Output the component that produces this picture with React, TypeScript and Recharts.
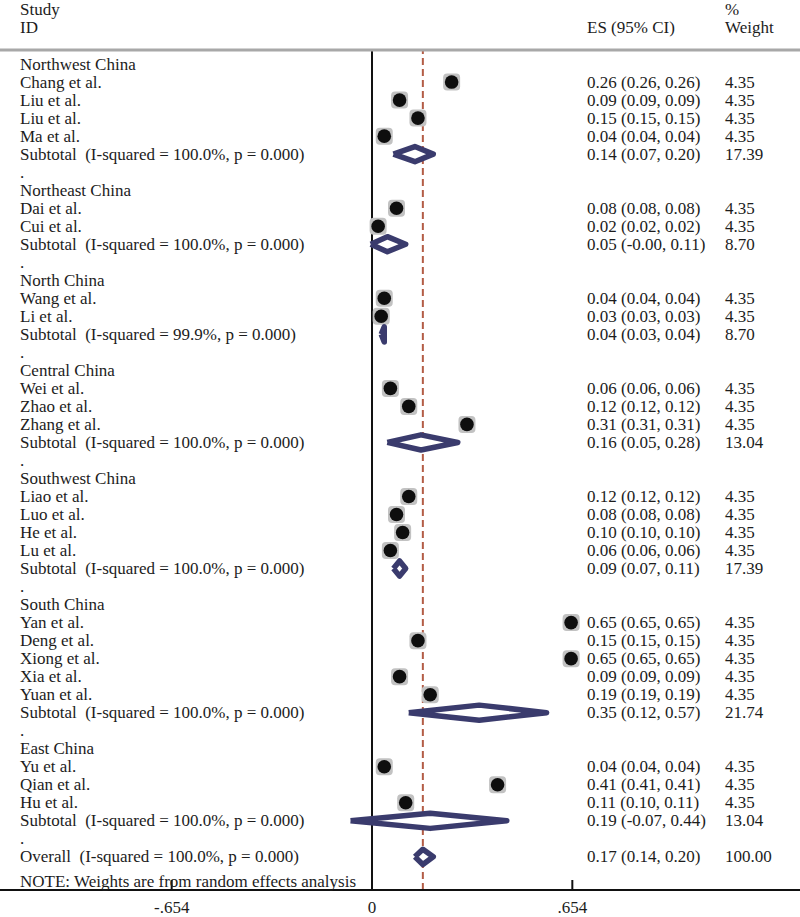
import { ScatterChart, Scatter, XAxis, YAxis, ReferenceLine } from 'recharts';

// regions and studies
const regionNames = ['Northwest China', 'Northeast China', 'North China', 'Central China', 'Southwest China', 'South China', 'East China'];

const studyNames = [
  'Chang et al.', 'Liu et al.', 'Liu et al.', 'Ma et al.',
  'Dai et al.', 'Cui et al.',
  'Wang et al.', 'Li et al.',
  'Wei et al.', 'Zhao et al.', 'Zhang et al.',
  'Liao et al.', 'Luo et al.', 'He et al.', 'Lu et al.',
  'Yan et al.', 'Deng et al.', 'Xiong et al.', 'Xia et al.', 'Yuan et al.',
  'Yu et al.', 'Qian et al.', 'Hu et al.',
];
const studyRegion = [0, 0, 0, 0, 1, 1, 2, 2, 3, 3, 3, 4, 4, 4, 4, 5, 5, 5, 5, 5, 6, 6, 6];
const studyES = [0.26, 0.09, 0.15, 0.04, 0.08, 0.02, 0.04, 0.03, 0.06, 0.12, 0.31, 0.12, 0.08, 0.10, 0.06, 0.65, 0.15, 0.65, 0.09, 0.19, 0.04, 0.41, 0.11];
const studyLow = [0.26, 0.09, 0.15, 0.04, 0.08, 0.02, 0.04, 0.03, 0.06, 0.12, 0.31, 0.12, 0.08, 0.10, 0.06, 0.65, 0.15, 0.65, 0.09, 0.19, 0.04, 0.41, 0.10];
const studyHigh = [0.26, 0.09, 0.15, 0.04, 0.08, 0.02, 0.04, 0.03, 0.06, 0.12, 0.31, 0.12, 0.08, 0.10, 0.06, 0.65, 0.15, 0.65, 0.09, 0.19, 0.04, 0.41, 0.11];
const studyWeight = [4.35, 4.35, 4.35, 4.35, 4.35, 4.35, 4.35, 4.35, 4.35, 4.35, 4.35, 4.35, 4.35, 4.35, 4.35, 4.35, 4.35, 4.35, 4.35, 4.35, 4.35, 4.35, 4.35];

const subES = [0.14, 0.05, 0.04, 0.16, 0.09, 0.35, 0.19];
const subLow = [0.07, -0.004, 0.03, 0.05, 0.07, 0.12, -0.07];
const subHigh = [0.20, 0.11, 0.04, 0.28, 0.11, 0.57, 0.44];
const subWeight = [17.39, 8.70, 8.70, 13.04, 17.39, 21.74, 13.04];
const subISq = [100.0, 100.0, 99.9, 100.0, 100.0, 100.0, 100.0];
const subP = [0, 0, 0, 0, 0, 0, 0];

const overallES = 0.166;
const overallLow = 0.14;
const overallHigh = 0.20;
const overallWeight = 100.0;
const overallISq = 100.0;
const overallP = 0;

const xTicks = [-0.654, 0, 0.654];
const xTickLabels = ['-.654', '0', '.654'];

const X_DOMAIN = [-1.2145, 1.3973];
const Y_DOMAIN = [-0.78, 45.84];
const HALF_H = 0.42; // diamond half height in rows

const FONT = '"Liberation Serif", "Times New Roman", serif';
const TEXT = '#1c1c1c';
const NAVY = '#3a3b6d';
const RED = '#b35c46';

type Row = { label: string; es?: string; wt?: string };

const f2 = (v: number) => v.toFixed(2);
const ci = (e: number, l: number, h: number) => `${f2(e)} (${f2(l)}, ${f2(h)})`;

const rows: Row[] = [];
const studyPoints: { x: number; y: number }[] = [];
const diamonds: { x: number; y: number }[][] = [];

const diamond = (e: number, l: number, h: number, r: number) => [
  { x: l, y: r },
  { x: e, y: r - HALF_H },
  { x: h, y: r },
  { x: e, y: r + HALF_H },
  { x: l, y: r },
];

regionNames.forEach((name, g) => {
  rows.push({ label: name });
  studyNames.forEach((s, i) => {
    if (studyRegion[i] !== g) return;
    studyPoints.push({ x: studyES[i], y: rows.length });
    rows.push({ label: s, es: ci(studyES[i], studyLow[i], studyHigh[i]), wt: f2(studyWeight[i]) });
  });
  diamonds.push(diamond(subES[g], subLow[g], subHigh[g], rows.length));
  rows.push({
    label: `Subtotal  (I-squared = ${subISq[g].toFixed(1)}%, p = ${subP[g].toFixed(3)})`,
    es: ci(subES[g], subLow[g], subHigh[g]),
    wt: f2(subWeight[g]),
  });
  rows.push({ label: '.' });
});
diamonds.push(diamond(overallES, overallLow, overallHigh, rows.length));
rows.push({
  label: `Overall  (I-squared = ${overallISq.toFixed(1)}%, p = ${overallP.toFixed(3)})`,
  es: ci(overallES, overallLow, overallHigh),
  wt: f2(overallWeight),
});

const rowTicks = rows.map((_, i) => i);

function RowTick({ y, payload }: any) {
  const r = rows[payload.value];
  if (!r) return null;
  const common = { fontSize: 17, fill: TEXT, fontFamily: FONT, dominantBaseline: 'central' as const, style: { whiteSpace: 'pre' as const } };
  return (
    <g>
      <text x={20} y={y} {...common}>{r.label}</text>
      {r.es && <text x={587} y={y} {...common}>{r.es}</text>}
      {r.wt && <text x={725} y={y} {...common}>{r.wt}</text>}
    </g>
  );
}

function AxisTick({ x, y, payload, index }: any) {
  return (
    <g>
      <line x1={x} x2={x} y1={y - 10} y2={y} stroke="#111" strokeWidth={2} />
      <text x={x} y={y + 17} textAnchor="middle" dominantBaseline="central" fontSize={17} fill={TEXT} fontFamily={FONT}>
        {xTickLabels[index] ?? payload.value}
      </text>
    </g>
  );
}

function StudyMarker({ cx, cy }: any) {
  return (
    <g>
      <rect x={cx - 8.5} y={cy - 8.5} width={17} height={17} rx={4} fill="#c2c2c2" />
      <circle cx={cx} cy={cy} r={6.8} fill="#0e0e0e" />
    </g>
  );
}

const NoShape = () => <g />;

export default function App() {
  const txt = { position: 'absolute' as const, fontFamily: FONT, fontSize: 17, lineHeight: '18px', color: TEXT, whiteSpace: 'pre' as const };
  return (
    <div style={{ position: 'absolute', left: 0, top: 0, width: 800, height: 917, background: '#fff' }}>
      <ScatterChart width={800} height={917} margin={{ top: 49, right: 0, bottom: 0, left: -1 }}>
        <XAxis
          dataKey="x"
          type="number"
          domain={X_DOMAIN}
          allowDataOverflow
          ticks={xTicks}
          interval={0}
          height={27}
          tickSize={0}
          tickMargin={0}
          tickLine={false}
          axisLine={{ stroke: '#111', strokeWidth: 2 }}
          tick={<AxisTick />}
        />
        <XAxis
          xAxisId="top"
          orientation="top"
          type="number"
          domain={X_DOMAIN}
          allowDataOverflow
          height={1}
          tick={false}
          tickLine={false}
          axisLine={{ stroke: '#a8a8a8', strokeWidth: 3 }}
        />
        <YAxis
          dataKey="y"
          type="number"
          domain={Y_DOMAIN}
          allowDataOverflow
          reversed
          ticks={rowTicks}
          interval={0}
          width={1}
          axisLine={false}
          tickLine={false}
          tick={<RowTick />}
        />
        <ReferenceLine x={0} stroke="#111" strokeWidth={2} />
        <ReferenceLine x={overallES} stroke={RED} strokeWidth={2} strokeDasharray="7 4" />
        <Scatter data={studyPoints} shape={<StudyMarker />} isAnimationActive={false} />
        {diamonds.map((d, i) => (
          <Scatter
            key={i}
            data={d}
            shape={<NoShape />}
            line={{ stroke: NAVY, strokeWidth: 5.5, fill: '#fff', strokeLinejoin: 'round' }}
            lineType="joint"
            isAnimationActive={false}
          />
        ))}
      </ScatterChart>
      <div style={{ ...txt, left: 20, top: 1 }}>Study</div>
      <div style={{ ...txt, left: 20, top: 19 }}>ID</div>
      <div style={{ ...txt, left: 587, top: 19 }}>ES (95% CI)</div>
      <div style={{ ...txt, left: 725, top: 1 }}>%</div>
      <div style={{ ...txt, left: 725, top: 19 }}>Weight</div>
      <div style={{ ...txt, left: 20, top: 873 }}>NOTE: Weights are from random effects analysis</div>
    </div>
  );
}
